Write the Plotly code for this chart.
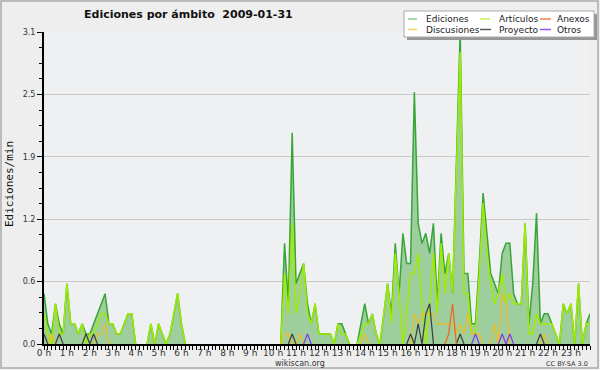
import plotly.graph_objects as go

# ---------------- data (edits per minute, one value per 10-minute slot) ----------------
ediciones = [
    0.5, 0.2, 0.1, 0.4, 0.2, 0.1, 0.6, 0.2, 0.2, 0.1, 0.2, 0.1,   # 0-2 h
    0.1, 0.2, 0.3, 0.4, 0.5, 0.2, 0.2, 0.1, 0.1, 0.2, 0.3, 0.3,   # 2-4 h
    0.0, 0.0, 0.0, 0.0, 0.2, 0.0, 0.2, 0.1, 0.0, 0.1, 0.3, 0.5,   # 4-6 h
    0.2, 0.0, 0.0, 0.0, 0.0, 0.0, 0.0, 0.0, 0.0, 0.0, 0.0, 0.0,   # 6-8 h
    0.0, 0.0, 0.0, 0.0, 0.0, 0.0, 0.0, 0.0, 0.0, 0.0, 0.0, 0.0,   # 8-10 h
    0.0, 0.0, 0.0, 1.0, 0.4, 2.1, 0.6, 0.7, 0.8, 0.4, 0.2, 0.4,   # 10-12 h
    0.1, 0.1, 0.1, 0.1, 0.0, 0.2, 0.2, 0.1, 0.0, 0.0, 0.0, 0.2,   # 12-14 h
    0.4, 0.2, 0.3, 0.1, 0.0, 0.3, 0.6, 0.3, 1.0, 0.5, 1.1, 0.8,   # 14-16 h
    0.8, 2.5, 1.2, 1.0, 1.1, 0.9, 1.2, 0.4, 1.1, 0.7, 0.9, 0.5,   # 16-18 h
    1.8, 3.1, 0.7, 0.7, 0.2, 0.2, 0.8, 1.5, 1.1, 0.7, 0.6, 0.5,   # 18-20 h
    0.9, 1.0, 1.0, 0.5, 0.4, 0.4, 1.2, 0.2, 0.6, 1.3, 0.2, 0.3,   # 20-22 h
    0.3, 0.2, 0.1, 0.0, 0.4, 0.3, 0.4, 0.0, 0.6, 0.0, 0.2, 0.3,   # 22-24 h
]
articulos = [
    0.3, 0.1, 0.0, 0.4, 0.1, 0.1, 0.6, 0.2, 0.2, 0.1, 0.2, 0.0,
    0.1, 0.1, 0.2, 0.3, 0.3, 0.2, 0.2, 0.1, 0.1, 0.2, 0.3, 0.3,
    0.0, 0.0, 0.0, 0.0, 0.2, 0.0, 0.2, 0.1, 0.0, 0.1, 0.3, 0.5,
    0.2, 0.0, 0.0, 0.0, 0.0, 0.0, 0.0, 0.0, 0.0, 0.0, 0.0, 0.0,
    0.0, 0.0, 0.0, 0.0, 0.0, 0.0, 0.0, 0.0, 0.0, 0.0, 0.0, 0.0,
    0.0, 0.0, 0.0, 0.7, 0.3, 1.2, 0.3, 0.5, 0.8, 0.3, 0.2, 0.4,
    0.1, 0.1, 0.1, 0.1, 0.0, 0.2, 0.1, 0.1, 0.0, 0.0, 0.0, 0.1,
    0.2, 0.2, 0.3, 0.1, 0.0, 0.3, 0.6, 0.2, 0.9, 0.5, 0.0, 0.3,
    0.7, 0.7, 0.9, 0.4, 0.0, 0.4, 0.9, 0.3, 1.0, 0.5, 0.9, 0.5,
    1.7, 2.9, 0.5, 0.5, 0.1, 0.1, 0.7, 1.4, 0.9, 0.6, 0.4, 0.5,
    0.7, 0.4, 0.5, 0.4, 0.4, 0.4, 1.2, 0.1, 0.1, 0.3, 0.2, 0.2,
    0.2, 0.2, 0.1, 0.0, 0.4, 0.3, 0.4, 0.0, 0.6, 0.0, 0.2, 0.2,
]
discusiones = [
    0.0, 0.0, 0.1, 0.0, 0.0, 0.0, 0.0, 0.0, 0.0, 0.0, 0.0, 0.0,
    0.0, 0.0, 0.1, 0.1, 0.2, 0.0, 0.0, 0.0, 0.0, 0.0, 0.0, 0.0,
    0.0, 0.0, 0.0, 0.0, 0.0, 0.0, 0.0, 0.0, 0.0, 0.0, 0.0, 0.0,
    0.0, 0.0, 0.0, 0.0, 0.0, 0.0, 0.0, 0.0, 0.0, 0.0, 0.0, 0.0,
    0.0, 0.0, 0.0, 0.0, 0.0, 0.0, 0.0, 0.0, 0.0, 0.0, 0.0, 0.0,
    0.0, 0.0, 0.0, 0.1, 0.1, 0.0, 0.0, 0.1, 0.0, 0.0, 0.0, 0.0,
    0.0, 0.0, 0.0, 0.0, 0.0, 0.0, 0.0, 0.0, 0.0, 0.0, 0.0, 0.0,
    0.1, 0.0, 0.0, 0.0, 0.0, 0.0, 0.0, 0.0, 0.0, 0.0, 0.0, 0.0,
    0.0, 0.3, 0.2, 0.3, 0.3, 0.3, 0.3, 0.2, 0.2, 0.2, 0.2, 0.2,
    0.1, 0.2, 0.1, 0.3, 0.1, 0.1, 0.1, 0.0, 0.0, 0.0, 0.2, 0.0,
    0.5, 0.4, 0.0, 0.0, 0.0, 0.0, 0.0, 0.0, 0.0, 0.0, 0.0, 0.1,
    0.0, 0.0, 0.0, 0.0, 0.0, 0.0, 0.0, 0.0, 0.0, 0.0, 0.0, 0.0,
]
proyecto = [
    0.1, 0.0, 0.0, 0.0, 0.1, 0.0, 0.0, 0.0, 0.0, 0.0, 0.0, 0.1,
    0.0, 0.1, 0.0, 0.0, 0.0, 0.0, 0.0, 0.0, 0.0, 0.0, 0.0, 0.0,
    0.0, 0.0, 0.0, 0.0, 0.0, 0.0, 0.0, 0.0, 0.0, 0.0, 0.0, 0.0,
    0.0, 0.0, 0.0, 0.0, 0.0, 0.0, 0.0, 0.0, 0.0, 0.0, 0.0, 0.0,
    0.0, 0.0, 0.0, 0.0, 0.0, 0.0, 0.0, 0.0, 0.0, 0.0, 0.0, 0.0,
    0.0, 0.0, 0.0, 0.0, 0.0, 0.1, 0.0, 0.0, 0.0, 0.0, 0.0, 0.0,
    0.0, 0.0, 0.0, 0.0, 0.0, 0.0, 0.0, 0.0, 0.0, 0.0, 0.0, 0.0,
    0.0, 0.0, 0.0, 0.0, 0.0, 0.0, 0.0, 0.0, 0.0, 0.0, 0.0, 0.0,
    0.1, 0.0, 0.2, 0.0, 0.3, 0.4, 0.0, 0.0, 0.0, 0.0, 0.0, 0.0,
    0.0, 0.1, 0.0, 0.0, 0.0, 0.0, 0.0, 0.0, 0.0, 0.0, 0.0, 0.0,
    0.0, 0.0, 0.0, 0.0, 0.0, 0.0, 0.0, 0.0, 0.0, 0.0, 0.1, 0.0,
    0.0, 0.0, 0.0, 0.0, 0.0, 0.0, 0.0, 0.0, 0.0, 0.0, 0.0, 0.0,
]
anexos = [0.0] * 106 + [0.1, 0.4] + [0.0] * 36
otros = [
    0.0, 0.0, 0.0, 0.0, 0.0, 0.0, 0.0, 0.0, 0.0, 0.0, 0.0, 0.0,
    0.0, 0.0, 0.0, 0.0, 0.0, 0.0, 0.0, 0.0, 0.0, 0.0, 0.0, 0.0,
    0.0, 0.0, 0.0, 0.0, 0.0, 0.0, 0.0, 0.0, 0.0, 0.0, 0.0, 0.0,
    0.0, 0.0, 0.0, 0.0, 0.0, 0.0, 0.0, 0.0, 0.0, 0.0, 0.0, 0.0,
    0.0, 0.0, 0.0, 0.0, 0.0, 0.0, 0.0, 0.0, 0.0, 0.0, 0.0, 0.0,
    0.0, 0.0, 0.0, 0.0, 0.0, 0.0, 0.0, 0.0, 0.0, 0.1, 0.0, 0.0,
    0.0, 0.0, 0.0, 0.0, 0.0, 0.0, 0.0, 0.0, 0.0, 0.0, 0.0, 0.0,
    0.0, 0.0, 0.0, 0.0, 0.0, 0.0, 0.0, 0.0, 0.0, 0.0, 0.0, 0.0,
    0.0, 0.0, 0.0, 0.0, 0.0, 0.0, 0.0, 0.0, 0.0, 0.0, 0.0, 0.0,
    0.0, 0.0, 0.0, 0.0, 0.0, 0.1, 0.0, 0.0, 0.0, 0.0, 0.0, 0.0,
    0.1, 0.0, 0.1, 0.0, 0.0, 0.0, 0.0, 0.0, 0.0, 0.0, 0.0, 0.0,
    0.0, 0.0, 0.0, 0.0, 0.0, 0.0, 0.0, 0.0, 0.0, 0.0, 0.0, 0.0,
]

hours = list(range(24))
hour_labels = [f"{h} h" for h in hours]
y_tick_vals = [0.0, 0.62, 1.24, 1.86, 2.48, 3.1]
y_tick_labels = ["0.0", "0.6", "1.2", "1.9", "2.5", "3.1"]
title_text = "Ediciones por ámbito\u00a0\u00a02009-01-31"
y_title = "Ediciones/min"

# time of each slot in hours
x = [i / 6 for i in range(len(ediciones))]


def hide_flat_zero(vals):
    """Leave out zero runs that lie on the x axis (so they don't paint over it)."""
    out = []
    n = len(vals)
    for i, v in enumerate(vals):
        left = vals[i - 1] if i > 0 else 0
        right = vals[i + 1] if i < n - 1 else 0
        out.append(v if (v > 0 or left > 0 or right > 0) else None)
    return out


# ---------------- layout helpers ----------------
W, H = 600, 370
L, R, T, B = 44, 10, 32, 26
PW, PH = W - L - R, H - T - B


def px(xp):
    return (xp - L) / PW


def py(yp):
    return (H - B - yp) / PH


FONT = "DejaVu Sans"

fig = go.Figure()
fig.add_trace(go.Scatter(x=x, y=hide_flat_zero(ediciones), mode="lines", fill="tozeroy",
                         fillcolor="rgb(158,205,158)", connectgaps=False,
                         line=dict(color="rgb(55,165,55)", width=1.5), name="Ediciones"))
series = [
    ("Artículos", articulos, "rgb(160,236,0)", 1.5),
    ("Discusiones", discusiones, "rgb(240,190,30)", 1.2),
    ("Proyecto", proyecto, "rgb(60,60,60)", 1.2),
    ("Anexos", anexos, "rgb(238,100,34)", 1.2),
    ("Otros", otros, "rgb(136,50,238)", 1.2),
]
for name, vals, col, w in series:
    fig.add_trace(go.Scatter(x=x, y=hide_flat_zero(vals), mode="lines", connectgaps=False,
                             line=dict(color=col, width=w), name=name))

fig.update_layout(
    width=W, height=H,
    margin=dict(l=L, r=R, t=T, b=B, pad=0, autoexpand=False),
    paper_bgcolor="rgb(238,238,238)",
    plot_bgcolor="rgb(238,240,242)",
    showlegend=False,
    font=dict(family=FONT, size=9, color="#333"),
    xaxis=dict(range=[0, x[-1]], tickvals=hours, ticktext=hour_labels,
               automargin=False, ticklabelstandoff=-5,
               showline=True, linecolor="black", linewidth=2,
               ticks="outside", ticklen=4, tickcolor="black", tickwidth=1,
               minor=dict(dtick=1 / 6, tick0=0, ticks="outside", ticklen=4,
                          tickcolor="black", tickwidth=1, showgrid=False),
               showgrid=False, zeroline=False,
               tickfont=dict(family=FONT, size=9, color="#333")),
    yaxis=dict(range=[0, 3.1], tickvals=y_tick_vals, ticktext=y_tick_labels,
               automargin=False,
               showline=True, linecolor="black", linewidth=2,
               ticks="outside", ticklen=5, tickcolor="black", tickwidth=1,
               minor=dict(dtick=0.155, tick0=0, ticks="outside", ticklen=3,
                          tickcolor="black", tickwidth=1, showgrid=False),
               showgrid=True, gridcolor="rgb(200,200,200)", gridwidth=1,
               zeroline=False,
               tickfont=dict(family=FONT, size=8, color="#333")),
)

shapes = []
annotations = []

# outer frame
shapes.append(dict(type="rect", xref="paper", yref="paper",
                   x0=px(1), x1=px(598), y0=py(368), y1=py(1),
                   line=dict(color="rgb(170,170,170)", width=1.5), fillcolor="rgba(0,0,0,0)"))

# title
annotations.append(dict(text=f"<b>{title_text}</b>", xref="paper", yref="paper",
                        x=px(188), y=py(15), xanchor="center", yanchor="middle",
                        showarrow=False, font=dict(family=FONT, size=11, color="#111")))
# y axis title
annotations.append(dict(text=y_title, xref="paper", yref="paper",
                        x=px(9), y=py(184), xanchor="center", yanchor="middle",
                        textangle=-90, showarrow=False,
                        font=dict(family="DejaVu Sans Mono", size=11, color="#111")))
# footer texts
annotations.append(dict(text="wikiscan.org", xref="paper", yref="paper",
                        x=px(300), y=py(363), xanchor="center", yanchor="middle",
                        showarrow=False, font=dict(family=FONT, size=8, color="#333")))
annotations.append(dict(text="CC BY-SA 3.0", xref="paper", yref="paper",
                        x=px(590), y=py(363.5), xanchor="right", yanchor="middle",
                        showarrow=False, font=dict(family=FONT, size=6.5, color="#333")))

# legend (drawn by hand)
shapes.append(dict(type="rect", xref="paper", yref="paper",
                   x0=px(407), x1=px(597), y0=py(40), y1=py(14),
                   line=dict(width=0), fillcolor="rgb(150,150,150)"))
shapes.append(dict(type="rect", xref="paper", yref="paper",
                   x0=px(404), x1=px(594), y0=py(37), y1=py(11),
                   line=dict(color="rgb(170,170,170)", width=1), fillcolor="white"))
legend_items = [
    ("Ediciones", "rgb(140,205,140)", 408, 417, 424, 19),
    ("Artículos", "rgb(200,240,90)", 480, 490, 497, 19),
    ("Anexos", "rgb(238,130,80)", 540, 551, 555, 19),
    ("Discusiones", "rgb(245,210,90)", 408, 417, 424, 29.5),
    ("Proyecto", "rgb(90,90,90)", 480, 491, 497, 29.5),
    ("Otros", "rgb(150,80,238)", 540, 551, 555, 29.5),
]
for name, col, lx0, lx1, tx, ty in legend_items:
    shapes.append(dict(type="line", xref="paper", yref="paper",
                       x0=px(lx0), x1=px(lx1), y0=py(ty), y1=py(ty),
                       line=dict(color=col, width=1.5)))
    annotations.append(dict(text=name, xref="paper", yref="paper",
                            x=px(tx), y=py(ty), xanchor="left", yanchor="middle",
                            showarrow=False, font=dict(family=FONT, size=9, color="#222")))

fig.update_layout(shapes=shapes, annotations=annotations)
fig.write_html("out.html", config={"displayModeBar": False})

# remove the browser's default page margin so the figure sits at (0, 0)
with open("out.html", "r", encoding="utf-8") as f:
    html = f.read()
html = html.replace("<head>", "<head><style>html,body{margin:0;padding:0;overflow:hidden;}</style>", 1)
with open("out.html", "w", encoding="utf-8") as f:
    f.write(html)
